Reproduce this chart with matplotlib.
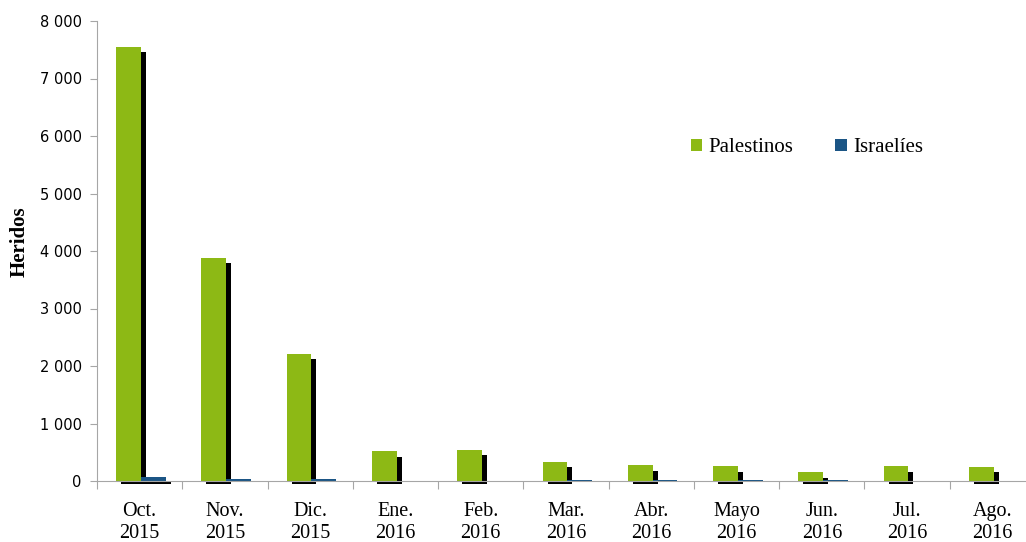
import numpy as np
import matplotlib.pyplot as plt
from matplotlib.ticker import FuncFormatter, FixedLocator

# Datos: heridos por mes
meses = ['Oct.\n2015', 'Nov.\n2015', 'Dic.\n2015', 'Ene.\n2016', 'Feb.\n2016', 'Mar.\n2016',
         'Abr.\n2016', 'Mayo\n2016', 'Jun.\n2016', 'Jul.\n2016', 'Ago.\n2016']
palestinos = [7550, 3880, 2210, 520, 540, 335, 275, 255, 155, 255, 245]
israelies = [70, 40, 30, 5, 3, 20, 10, 10, 20, 5, 3]

verde = '#8DB915'
azul = '#1B5585'
gris = '#A6A6A6'

fig = plt.figure(figsize=(10.26, 5.42), dpi=100)
ax = fig.add_axes([97 / 1026, 61 / 542, 938 / 1026, 460 / 542])

x = np.arange(len(meses))
w = 0.29
dx = 0.059      # desplazamiento de la sombra en x
dy = 95         # desplazamiento de la sombra en y
base = -45

# sombras (la de los israelíes solo se ve en barras algo altas)
for vals, off, minimo in [(palestinos, 0.225, 0), (israelies, 0.515, 50)]:
    v = np.array(vals, dtype=float)
    top = np.maximum(v - dy, 0)
    alto = np.where(v >= minimo, top - base, 0)
    ax.bar(x + off + dx, alto, bottom=base, width=w, align='edge',
           color='black', zorder=1, clip_on=False, linewidth=0)

ax.bar(x + 0.225, palestinos, width=w, align='edge', color=verde, zorder=2,
       label='Palestinos', linewidth=0)
ax.bar(x + 0.515, israelies, width=w, align='edge', color=azul, zorder=2,
       label='Israelíes', linewidth=0)

ax.set_xlim(0, len(meses))
ax.set_ylim(0, 8000)

ax.spines['top'].set_visible(False)
ax.spines['right'].set_visible(False)
ax.spines['left'].set_color(gris)
ax.spines['bottom'].set_color(gris)
ax.spines['bottom'].set_zorder(3)

ax.set_yticks(np.arange(0, 8001, 1000))
ax.yaxis.set_major_formatter(FuncFormatter(lambda v, p: f'{v:,.0f}'.replace(',', ' ')))
ax.tick_params(axis='y', direction='out', length=5, color=gris, labelsize=10.5, pad=6)
for t in ax.get_yticklabels():
    t.set_fontfamily('DejaVu Sans')

ax.xaxis.set_major_locator(FixedLocator(np.arange(0, len(meses) + 1)))
ax.set_xticklabels([])
ax.set_xticks(x + 0.5, minor=True)
ax.set_xticklabels(meses, minor=True, fontfamily='Liberation Serif', fontsize=14.5,
                   linespacing=1.25)
ax.tick_params(axis='x', which='major', direction='out', length=6, color=gris)
ax.tick_params(axis='x', which='minor', length=0, pad=15)

ax.set_ylabel('Heridos', fontfamily='Liberation Serif', fontweight='bold', fontsize=15)
ax.yaxis.set_label_coords(-0.072, 0.52)

ax.legend(loc='center left', bbox_to_anchor=((691 - 97) / 938, (481 - 148) / 460),
          ncol=2, frameon=False, prop={'family': 'Liberation Serif', 'size': 15},
          handlelength=0.55, handleheight=0.55, handletextpad=0.3, columnspacing=2.0,
          borderaxespad=0, borderpad=0)

fig.savefig('out.png', dpi=100)
